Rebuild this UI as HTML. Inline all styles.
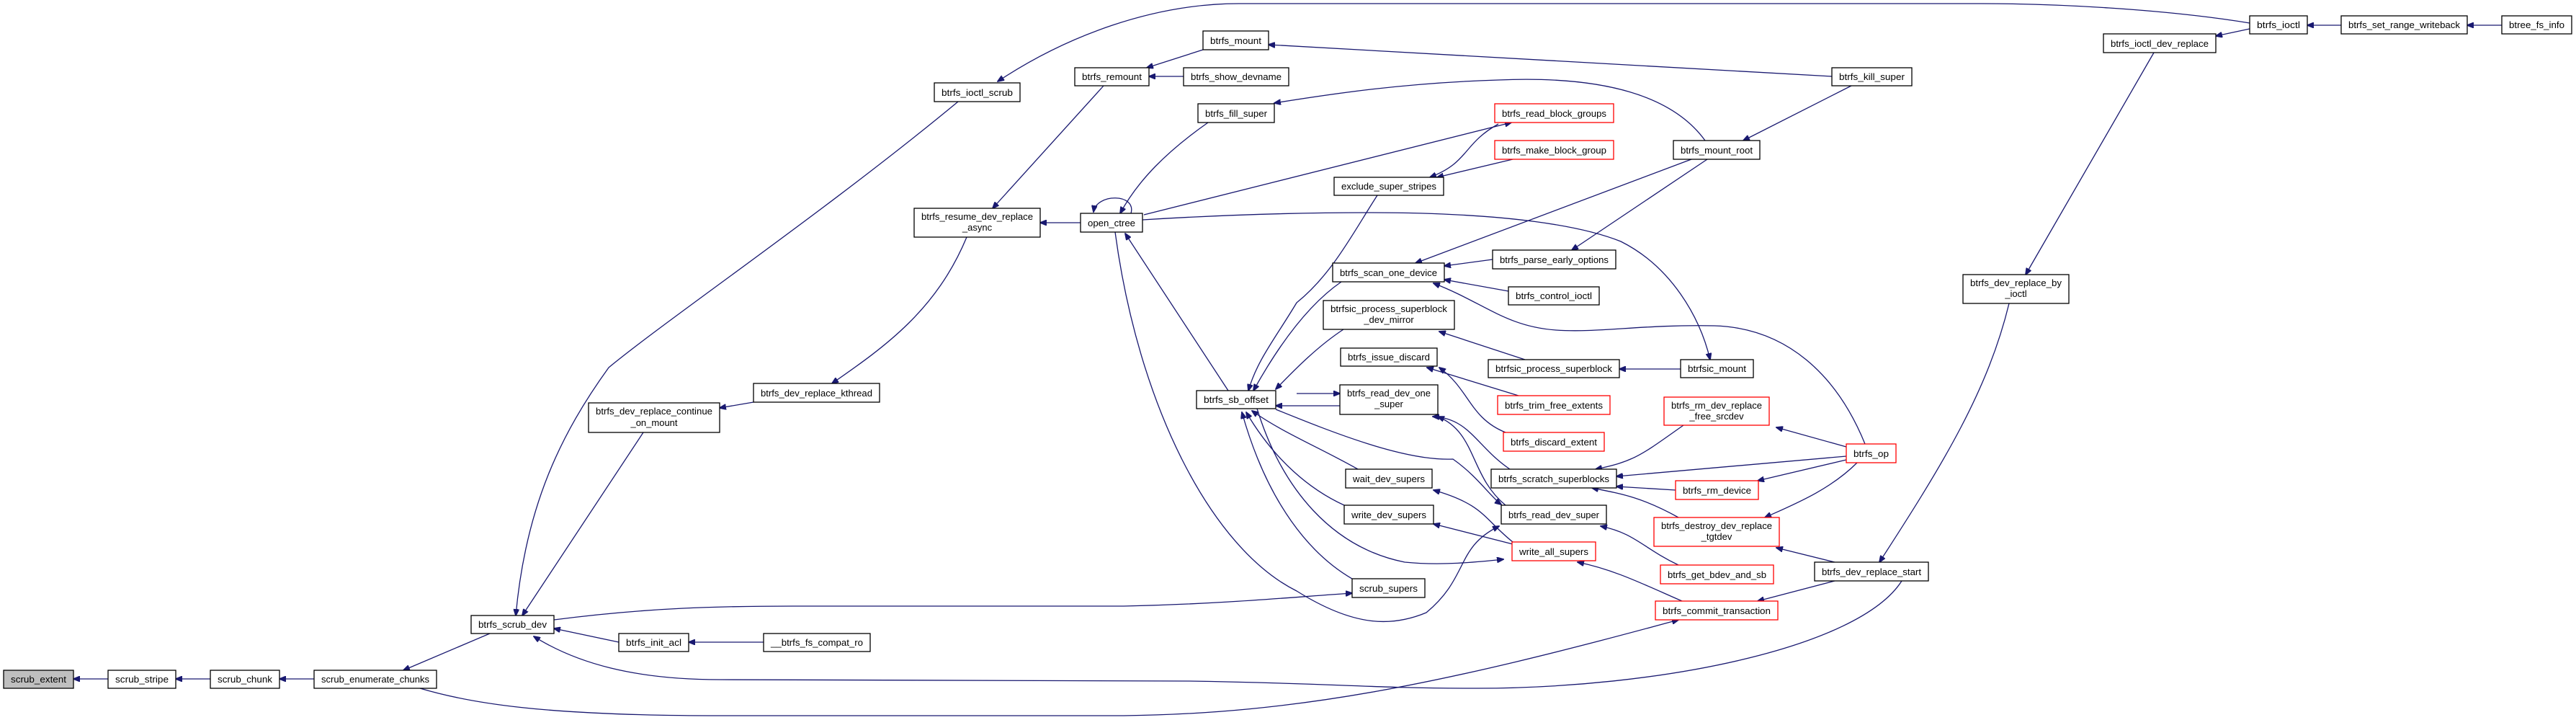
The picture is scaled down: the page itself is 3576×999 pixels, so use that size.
<!DOCTYPE html>
<html><head><meta charset="utf-8"><style>
html,body{margin:0;padding:0;background:#fff;}
svg{display:block;}
text{font-family:"Liberation Sans",sans-serif;font-size:13px;fill:#000;}
.e{fill:none;stroke:#191970;stroke-width:1.3;}
.n{fill:#fff;stroke:#000;stroke-width:1.3;}
.r{fill:#fff;stroke:#ff0000;stroke-width:1.3;}
</style></head><body>
<svg width="3576" height="999" viewBox="0 0 3576 999" xmlns="http://www.w3.org/2000/svg">
<defs><marker id="a" markerWidth="10" markerHeight="8" refX="9" refY="4" orient="auto" markerUnits="userSpaceOnUse"><path d="M0,0 L10,4 L0,8 z" fill="#191970" stroke="#191970"/></marker></defs>
<g class="e" marker-end="url(#a)">
<path d="M150,942 L102,942"/>
<path d="M292,942 L244,942"/>
<path d="M436,942 L388,942"/>
<path d="M680,879 L560,930"/>
<path d="M1330,141 C1150,290 930,440 845,510 C780,600 730,700 716,854"/>
<path d="M893,600 L725,854"/>
<path d="M859,891 L769,872"/>
<path d="M1060,891 L956,891"/>
<path d="M769,860 C900,843 1000,841 1100,841 L1560,841 C1700,838 1800,828 1877,823"/>
<path d="M2640,806 C2580,900 2300,955 2050,955 C1900,955 1850,948 1650,945 L1000,943 C880,943 800,920 741,883"/>
<path d="M583,955 C650,975 750,993 1000,993 L1560,993 C1800,990 2000,950 2330,860"/>
<path d="M3123,32 C3000,12 2850,5 2750,5 L1720,5 C1600,5 1480,50 1385,113"/>
<path d="M3123,40 L3076,50"/>
<path d="M3250,35 L3203,35"/>
<path d="M3473,35 L3425,35"/>
<path d="M2990,73 L2812,381"/>
<path d="M2789,421 C2760,540 2700,640 2609,780"/>
<path d="M1670,69 L1592,94"/>
<path d="M1643,106 L1595,106"/>
<path d="M2543,106 L1761,62"/>
<path d="M2570,119 L2420,195"/>
<path d="M1532,119 L1378,289"/>
<path d="M1500,309 L1444,309"/>
<path d="M1342,329 C1300,430 1230,480 1155,532"/>
<path d="M1046,558 L999,566"/>
<path d="M1677,170 C1620,210 1580,250 1555,296"/>
<path d="M2367,195 C2320,130 2220,105 2080,111 C1950,115 1850,130 1769,143"/>
<path d="M1570,296 C1578,268 1522,268 1518,294"/>
<path d="M1588,298 L2098,170"/>
<path d="M2080,172 C2030,200 2040,225 1985,246"/>
<path d="M2100,221 L1995,246"/>
<path d="M1586,305 C1700,298 1800,295 1900,295 C2100,295 2200,315 2250,335 C2320,370 2360,440 2374,499"/>
<path d="M2348,221 L1965,365"/>
<path d="M2370,221 L2182,347"/>
<path d="M2072,360 L2005,369"/>
<path d="M2094,404 L2005,388"/>
<path d="M2589,616 C2550,520 2480,455 2380,452 C2280,450 2220,462 2160,458 C2090,453 2060,420 1990,393"/>
<path d="M2117,499 L1998,460"/>
<path d="M2333,512 L2248,512"/>
<path d="M1912,271 C1880,320 1850,380 1800,420 C1770,470 1745,500 1733,542"/>
<path d="M1862,391 C1820,420 1780,470 1740,542"/>
<path d="M1865,457 C1830,480 1800,510 1771,540"/>
<path d="M1800,546 L1860,546"/>
<path d="M1860,563 L1771,563"/>
<path d="M1885,651 C1830,620 1780,600 1738,570"/>
<path d="M1866,701 C1820,680 1770,640 1730,572"/>
<path d="M1877,803 C1820,770 1760,700 1724,572"/>
<path d="M1771,568 C1850,600 1950,640 2017,637 C2050,660 2070,690 2084,700"/>
<path d="M1745,567 C1780,680 1850,760 1950,780 C2000,785 2050,780 2087,776"/>
<path d="M1705,542 L1562,324"/>
<path d="M1548,322 C1580,560 1680,760 1800,820 C1880,870 1932,870 1980,850 C2040,800 2020,760 2081,730"/>
<path d="M2108,549 L1981,510"/>
<path d="M2090,600 C2040,580 2040,540 1998,510"/>
<path d="M2096,651 C2050,620 2040,580 1989,578"/>
<path d="M2090,701 C2040,660 2050,600 1996,578"/>
<path d="M2563,620 L2466,593"/>
<path d="M2337,590 C2280,630 2270,640 2215,651"/>
<path d="M2563,633 L2244,661"/>
<path d="M2563,638 L2440,667"/>
<path d="M2326,680 L2244,675"/>
<path d="M2330,718 C2280,690 2250,685 2210,677"/>
<path d="M2578,642 C2540,680 2490,700 2450,718"/>
<path d="M2547,780 L2466,760"/>
<path d="M2100,752 C2060,720 2060,700 1990,680"/>
<path d="M2100,755 L1990,727"/>
<path d="M2330,784 C2280,760 2270,740 2222,730"/>
<path d="M2335,834 C2280,810 2240,790 2190,780"/>
<path d="M2547,806 L2440,834"/>
</g>
<g>
<rect x="5" y="930" width="97" height="25" fill="#bfbfbf" stroke="#000" stroke-width="1.3"/>
<text x="53.5" y="947" text-anchor="middle" textLength="77" lengthAdjust="spacingAndGlyphs">scrub_extent</text>
<rect class="n" x="150" y="930" width="94" height="25"/><text x="197" y="947" text-anchor="middle" textLength="74" lengthAdjust="spacingAndGlyphs">scrub_stripe</text>
<rect class="n" x="292" y="930" width="96" height="25"/><text x="340" y="947" text-anchor="middle" textLength="76" lengthAdjust="spacingAndGlyphs">scrub_chunk</text>
<rect class="n" x="436" y="930" width="170" height="25"/><text x="521" y="947" text-anchor="middle" textLength="150" lengthAdjust="spacingAndGlyphs">scrub_enumerate_chunks</text>
<rect class="n" x="654" y="854" width="115" height="25"/><text x="711.5" y="871" text-anchor="middle" textLength="95" lengthAdjust="spacingAndGlyphs">btrfs_scrub_dev</text>
<rect class="n" x="817" y="559" width="182" height="41"/><text x="908" y="575" text-anchor="middle" textLength="162" lengthAdjust="spacingAndGlyphs">btrfs_dev_replace_continue</text><text x="908" y="591" text-anchor="middle">_on_mount</text>
<rect class="n" x="859" y="879" width="97" height="25"/><text x="907.5" y="896" text-anchor="middle" textLength="77" lengthAdjust="spacingAndGlyphs">btrfs_init_acl</text>
<rect class="n" x="1046" y="532" width="175" height="26"/><text x="1133.5" y="550" text-anchor="middle" textLength="155" lengthAdjust="spacingAndGlyphs">btrfs_dev_replace_kthread</text>
<rect class="n" x="1060" y="879" width="148" height="25"/><text x="1134" y="896" text-anchor="middle" textLength="128" lengthAdjust="spacingAndGlyphs">__btrfs_fs_compat_ro</text>
<rect class="n" x="1661" y="542" width="110" height="25"/><text x="1716" y="559" text-anchor="middle" textLength="90" lengthAdjust="spacingAndGlyphs">btrfs_sb_offset</text>
<rect class="n" x="1297" y="115" width="119" height="26"/><text x="1356.5" y="133" text-anchor="middle" textLength="99" lengthAdjust="spacingAndGlyphs">btrfs_ioctl_scrub</text>
<rect class="n" x="1670" y="43" width="91" height="26"/><text x="1715.5" y="61" text-anchor="middle" textLength="71" lengthAdjust="spacingAndGlyphs">btrfs_mount</text>
<rect class="n" x="1492" y="94" width="103" height="25"/><text x="1543.5" y="111" text-anchor="middle" textLength="83" lengthAdjust="spacingAndGlyphs">btrfs_remount</text>
<rect class="n" x="1643" y="94" width="146" height="25"/><text x="1716" y="111" text-anchor="middle" textLength="126" lengthAdjust="spacingAndGlyphs">btrfs_show_devname</text>
<rect class="n" x="1663" y="144" width="106" height="26"/><text x="1716" y="162" text-anchor="middle" textLength="86" lengthAdjust="spacingAndGlyphs">btrfs_fill_super</text>
<rect class="n" x="1269" y="289" width="175" height="40"/><text x="1356.5" y="305" text-anchor="middle" textLength="155" lengthAdjust="spacingAndGlyphs">btrfs_resume_dev_replace</text><text x="1356.5" y="320" text-anchor="middle">_async</text>
<rect class="n" x="1500" y="296" width="86" height="26"/><text x="1543" y="314" text-anchor="middle" textLength="66" lengthAdjust="spacingAndGlyphs">open_ctree</text>
<rect class="n" x="2543" y="94" width="111" height="25"/><text x="2598.5" y="111" text-anchor="middle" textLength="91" lengthAdjust="spacingAndGlyphs">btrfs_kill_super</text>
<rect class="r" x="2075" y="144" width="165" height="26"/><text x="2157.5" y="162" text-anchor="middle" textLength="145" lengthAdjust="spacingAndGlyphs">btrfs_read_block_groups</text>
<rect class="r" x="2075" y="195" width="165" height="26"/><text x="2157.5" y="213" text-anchor="middle" textLength="145" lengthAdjust="spacingAndGlyphs">btrfs_make_block_group</text>
<rect class="n" x="2323" y="195" width="120" height="26"/><text x="2383" y="213" text-anchor="middle" textLength="100" lengthAdjust="spacingAndGlyphs">btrfs_mount_root</text>
<rect class="n" x="1852" y="246" width="152" height="25"/><text x="1928" y="263" text-anchor="middle" textLength="132" lengthAdjust="spacingAndGlyphs">exclude_super_stripes</text>
<rect class="n" x="2072" y="347" width="171" height="26"/><text x="2157.5" y="365" text-anchor="middle" textLength="151" lengthAdjust="spacingAndGlyphs">btrfs_parse_early_options</text>
<rect class="n" x="1850" y="365" width="155" height="26"/><text x="1927.5" y="383" text-anchor="middle" textLength="135" lengthAdjust="spacingAndGlyphs">btrfs_scan_one_device</text>
<rect class="n" x="2094" y="398" width="126" height="25"/><text x="2157" y="415" text-anchor="middle" textLength="106" lengthAdjust="spacingAndGlyphs">btrfs_control_ioctl</text>
<rect class="n" x="1837" y="417" width="182" height="40"/><text x="1928" y="433" text-anchor="middle" textLength="162" lengthAdjust="spacingAndGlyphs">btrfsic_process_superblock</text><text x="1928" y="448" text-anchor="middle">_dev_mirror</text>
<rect class="n" x="1861" y="483" width="134" height="25"/><text x="1928" y="500" text-anchor="middle" textLength="114" lengthAdjust="spacingAndGlyphs">btrfs_issue_discard</text>
<rect class="n" x="2066" y="499" width="182" height="25"/><text x="2157" y="516" text-anchor="middle" textLength="162" lengthAdjust="spacingAndGlyphs">btrfsic_process_superblock</text>
<rect class="n" x="2333" y="499" width="101" height="25"/><text x="2383.5" y="516" text-anchor="middle" textLength="81" lengthAdjust="spacingAndGlyphs">btrfsic_mount</text>
<rect class="n" x="1860" y="534" width="136" height="41"/><text x="1928" y="550" text-anchor="middle" textLength="116" lengthAdjust="spacingAndGlyphs">btrfs_read_dev_one</text><text x="1928" y="565" text-anchor="middle">_super</text>
<rect class="r" x="2079" y="549" width="156" height="26"/><text x="2157" y="567" text-anchor="middle" textLength="136" lengthAdjust="spacingAndGlyphs">btrfs_trim_free_extents</text>
<rect class="r" x="2310" y="551" width="146" height="39"/><text x="2383" y="567" text-anchor="middle" textLength="126" lengthAdjust="spacingAndGlyphs">btrfs_rm_dev_replace</text><text x="2383" y="582" text-anchor="middle">_free_srcdev</text>
<rect class="r" x="2087" y="600" width="140" height="26"/><text x="2157" y="618" text-anchor="middle" textLength="120" lengthAdjust="spacingAndGlyphs">btrfs_discard_extent</text>
<rect class="r" x="2563" y="616" width="69" height="26"/><text x="2597.5" y="634" text-anchor="middle" textLength="49" lengthAdjust="spacingAndGlyphs">btrfs_op</text>
<rect class="n" x="1868" y="651" width="120" height="26"/><text x="1928" y="669" text-anchor="middle" textLength="100" lengthAdjust="spacingAndGlyphs">wait_dev_supers</text>
<rect class="n" x="2070" y="651" width="174" height="26"/><text x="2157" y="669" text-anchor="middle" textLength="154" lengthAdjust="spacingAndGlyphs">btrfs_scratch_superblocks</text>
<rect class="r" x="2326" y="667" width="115" height="26"/><text x="2383.5" y="685" text-anchor="middle" textLength="95" lengthAdjust="spacingAndGlyphs">btrfs_rm_device</text>
<rect class="n" x="1866" y="701" width="124" height="26"/><text x="1928" y="719" text-anchor="middle" textLength="104" lengthAdjust="spacingAndGlyphs">write_dev_supers</text>
<rect class="n" x="2084" y="701" width="146" height="26"/><text x="2157" y="719" text-anchor="middle" textLength="126" lengthAdjust="spacingAndGlyphs">btrfs_read_dev_super</text>
<rect class="r" x="2296" y="718" width="174" height="40"/><text x="2383" y="734" text-anchor="middle" textLength="154" lengthAdjust="spacingAndGlyphs">btrfs_destroy_dev_replace</text><text x="2383" y="749" text-anchor="middle">_tgtdev</text>
<rect class="r" x="2099" y="752" width="116" height="26"/><text x="2157" y="770" text-anchor="middle" textLength="96" lengthAdjust="spacingAndGlyphs">write_all_supers</text>
<rect class="r" x="2305" y="784" width="157" height="26"/><text x="2383.5" y="802" text-anchor="middle" textLength="137" lengthAdjust="spacingAndGlyphs">btrfs_get_bdev_and_sb</text>
<rect class="n" x="2519" y="780" width="158" height="26"/><text x="2598" y="798" text-anchor="middle" textLength="138" lengthAdjust="spacingAndGlyphs">btrfs_dev_replace_start</text>
<rect class="n" x="1877" y="803" width="101" height="26"/><text x="1927.5" y="821" text-anchor="middle" textLength="81" lengthAdjust="spacingAndGlyphs">scrub_supers</text>
<rect class="r" x="2298" y="834" width="170" height="26"/><text x="2383" y="852" text-anchor="middle" textLength="150" lengthAdjust="spacingAndGlyphs">btrfs_commit_transaction</text>
<rect class="n" x="3123" y="22" width="80" height="25"/><text x="3163" y="39" text-anchor="middle" textLength="60" lengthAdjust="spacingAndGlyphs">btrfs_ioctl</text>
<rect class="n" x="3250" y="22" width="175" height="25"/><text x="3337.5" y="39" text-anchor="middle" textLength="155" lengthAdjust="spacingAndGlyphs">btrfs_set_range_writeback</text>
<rect class="n" x="3473" y="22" width="97" height="25"/><text x="3521.5" y="39" text-anchor="middle" textLength="77" lengthAdjust="spacingAndGlyphs">btree_fs_info</text>
<rect class="n" x="2920" y="47" width="156" height="26"/><text x="2998" y="65" text-anchor="middle" textLength="136" lengthAdjust="spacingAndGlyphs">btrfs_ioctl_dev_replace</text>
<rect class="n" x="2725" y="381" width="147" height="40"/><text x="2798.5" y="397" text-anchor="middle" textLength="127" lengthAdjust="spacingAndGlyphs">btrfs_dev_replace_by</text><text x="2798.5" y="412" text-anchor="middle">_ioctl</text>
</g>
</svg>
</body></html>
